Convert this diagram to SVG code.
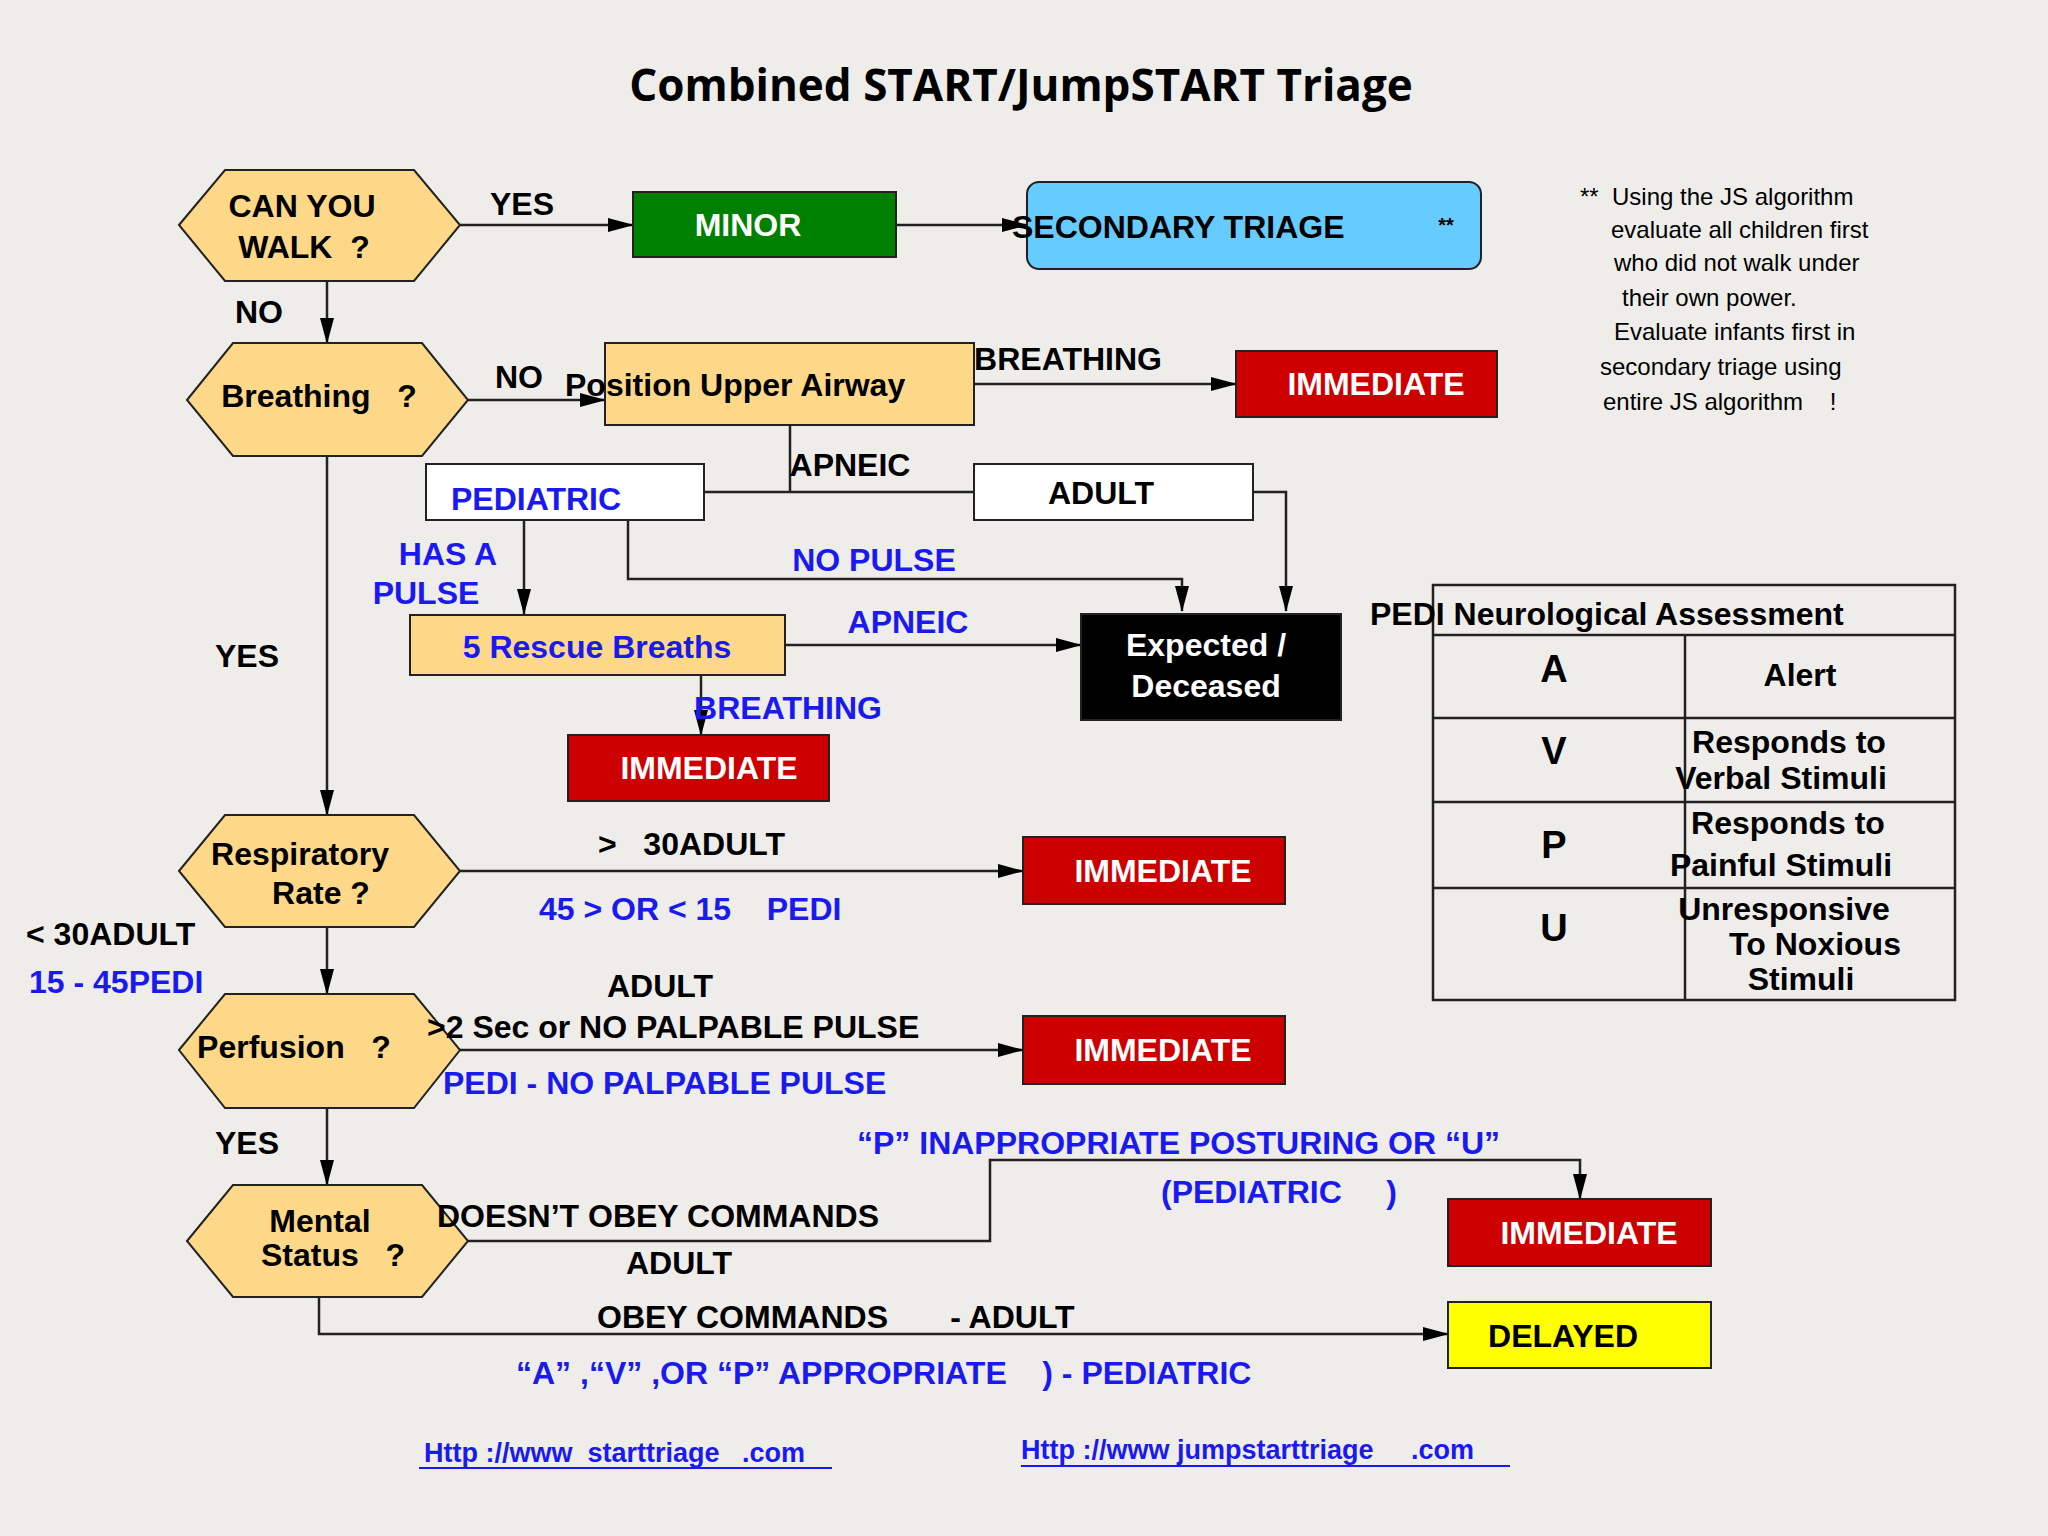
<svg xmlns="http://www.w3.org/2000/svg" width="2048" height="1536" viewBox="0 0 2048 1536" xml:space="preserve">
<defs>
<marker id="ar" markerWidth="26" markerHeight="16" refX="25" refY="8" orient="auto" markerUnits="userSpaceOnUse" viewBox="0 0 26 16"><path d="M0,1 L26,8 L0,15 z" fill="#000"/></marker>
<style>
text{font-family:"Liberation Sans",Arial,sans-serif;font-weight:bold;font-size:32px;fill:#000;white-space:pre}
.c{text-anchor:middle}
.b{fill:#1a1aee}
.w{fill:#fff}
.n{font-weight:normal;font-size:24px}
.hex{fill:#fdd888;stroke:#222;stroke-width:2}
.box{stroke:#222;stroke-width:2}
.ln{fill:none;stroke:#222;stroke-width:2.5}
.arr{fill:none;stroke:#222;stroke-width:2.5;marker-end:url(#ar)}
</style>
</defs>
<rect width="2048" height="1536" fill="#eeede9"/>
<text x="1021" y="101" class="c" style="font-size:44px;font-family:'Open Sans','Liberation Sans',sans-serif">Combined START/JumpSTART Triage</text>

<g id="connectors">
<path class="arr" d="M460,225 H633"/>
<path class="arr" d="M896,225 H1027"/>
<path class="arr" d="M327,281 V343"/>
<path class="arr" d="M468,400 H605"/>
<path class="arr" d="M974,384 H1236"/>
<path class="ln" d="M790,425 V492 M704,492 H974"/>
<path class="arr" d="M1253,492 H1286 V611"/>
<path class="arr" d="M524,520 V614"/>
<path class="arr" d="M628,520 V579 H1182 V611"/>
<path class="arr" d="M785,645 H1081"/>
<path class="arr" d="M701,675 V735"/>
<path class="arr" d="M327,456 V815"/>
<path class="arr" d="M460,871 H1023"/>
<path class="arr" d="M327,927 V994"/>
<path class="arr" d="M460,1050 H1023"/>
<path class="arr" d="M327,1108 V1185"/>
<path class="arr" d="M468,1241 H990 V1160 H1580 V1199"/>
<path class="arr" d="M319,1297 V1334 H1448"/>
</g>

<g id="walk"><polygon class="hex" points="179,225 225,170 414,170 460,225 414,281 225,281"/>
<text x="302" y="217" class="c">CAN YOU</text><text x="304" y="258" class="c">WALK  ?</text></g>
<g id="minor"><rect class="box" x="633" y="192" width="263" height="65" fill="#008000"/><text x="748" y="236" class="c w">MINOR</text></g>
<g id="secondary"><rect class="box" x="1027" y="182" width="454" height="87" rx="12" fill="#66ccff"/><text x="1012" y="238">SECONDARY TRIAGE</text><text x="1446" y="232" class="c" style="font-size:20px">**</text></g>
<g id="note">
<text class="n" x="1580" y="205">**  Using the JS algorithm</text>
<text class="n" x="1611" y="238">evaluate all children first</text>
<text class="n" x="1614" y="271">who did not walk under</text>
<text class="n" x="1622" y="306">their own power.</text>
<text class="n" x="1614" y="340">Evaluate infants first in</text>
<text class="n" x="1600" y="375">secondary triage using</text>
<text class="n" x="1603" y="410">entire JS algorithm    !</text>
</g>
<g id="breathing"><polygon class="hex" points="187,400 233,343 422,343 468,400 422,456 233,456"/><text x="319" y="407" class="c">Breathing   ?</text></g>
<g id="pua"><rect class="box" x="605" y="343" width="369" height="82" fill="#fdd888"/><text x="565" y="396">Position Upper Airway</text></g>
<g id="imm1"><rect class="box" x="1236" y="351" width="261" height="66" fill="#cc0000"/><text x="1376" y="395" class="c w">IMMEDIATE</text></g>
<g id="pedi"><rect class="box" x="426" y="464" width="278" height="56" fill="#fff"/><text x="536" y="510" class="c b">PEDIATRIC</text></g>
<g id="adult"><rect class="box" x="974" y="464" width="279" height="56" fill="#fff"/><text x="1101" y="504" class="c">ADULT</text></g>
<g id="expected"><rect class="box" x="1081" y="614" width="260" height="106" fill="#000"/><text x="1206" y="656" class="c w">Expected /</text><text x="1206" y="697" class="c w">Deceased</text></g>
<g id="rescue"><rect class="box" x="410" y="615" width="375" height="60" fill="#fdd888"/><text x="597" y="658" class="c b">5 Rescue Breaths</text></g>
<g id="imm2"><rect class="box" x="568" y="735" width="261" height="66" fill="#cc0000"/><text x="709" y="779" class="c w">IMMEDIATE</text></g>
<g id="resp"><polygon class="hex" points="179,871 225,815 414,815 460,871 414,927 225,927"/><text x="300" y="865" class="c">Respiratory</text><text x="321" y="904" class="c">Rate ?</text></g>
<g id="imm3"><rect class="box" x="1023" y="837" width="262" height="67" fill="#cc0000"/><text x="1163" y="882" class="c w">IMMEDIATE</text></g>
<g id="perf"><polygon class="hex" points="179,1050 225,994 414,994 460,1050 414,1108 225,1108"/><text x="294" y="1058" class="c">Perfusion   ?</text></g>
<g id="imm4"><rect class="box" x="1023" y="1016" width="262" height="68" fill="#cc0000"/><text x="1163" y="1061" class="c w">IMMEDIATE</text></g>
<g id="mental"><polygon class="hex" points="187,1241 233,1185 422,1185 468,1241 422,1297 233,1297"/><text x="320" y="1232" class="c">Mental</text><text x="333" y="1266" class="c">Status   ?</text></g>
<g id="imm5"><rect class="box" x="1448" y="1199" width="263" height="67" fill="#cc0000"/><text x="1589" y="1244" class="c w">IMMEDIATE</text></g>
<g id="delayed"><rect class="box" x="1448" y="1302" width="263" height="66" fill="#ffff00"/><text x="1563" y="1347" class="c">DELAYED</text></g>

<g id="avpu">
<rect x="1433" y="585" width="522" height="415" fill="none" stroke="#222" stroke-width="2.5"/>
<path class="ln" d="M1433,635 H1955 M1433,718 H1955 M1433,802 H1955 M1433,888 H1955 M1685,635 V1000"/>
<text x="1370" y="625">PEDI Neurological Assessment</text>
<text x="1554" y="682" class="c" style="font-size:38px">A</text><text x="1800" y="686" class="c">Alert</text>
<text x="1554" y="764" class="c" style="font-size:38px">V</text><text x="1789" y="753" class="c">Responds to</text><text x="1781" y="789" class="c">Verbal Stimuli</text>
<text x="1554" y="858" class="c" style="font-size:38px">P</text><text x="1788" y="834" class="c">Responds to</text><text x="1781" y="876" class="c">Painful Stimuli</text>
<text x="1554" y="941" class="c" style="font-size:38px">U</text><text x="1784" y="920" class="c">Unresponsive</text><text x="1815" y="955" class="c">To Noxious</text><text x="1801" y="990" class="c">Stimuli</text>
</g>

<g id="labels">
<text x="522" y="215" class="c">YES</text>
<text x="259" y="323" class="c">NO</text>
<text x="519" y="388" class="c">NO</text>
<text x="1068" y="370" class="c">BREATHING</text>
<text x="850" y="476" class="c">APNEIC</text>
<text x="448" y="565" class="c b">HAS A</text>
<text x="426" y="604" class="c b">PULSE</text>
<text x="874" y="571" class="c b">NO PULSE</text>
<text x="908" y="633" class="c b">APNEIC</text>
<text x="788" y="719" class="c b">BREATHING</text>
<text x="247" y="667" class="c">YES</text>
<text x="598" y="855">&gt;   30ADULT</text>
<text x="539" y="920" class="b">45 &gt; OR &lt; 15    PEDI</text>
<text x="26" y="945">&lt; 30ADULT</text>
<text x="29" y="993" class="b">15 - 45PEDI</text>
<text x="660" y="997" class="c">ADULT</text>
<text x="427" y="1038">&gt;2 Sec or NO PALPABLE PULSE</text>
<text x="443" y="1094" class="b">PEDI - NO PALPABLE PULSE</text>
<text x="247" y="1154" class="c">YES</text>
<text x="857" y="1154" class="b">“P” INAPPROPRIATE POSTURING OR “U”</text>
<text x="1161" y="1203" class="b">(PEDIATRIC     )</text>
<text x="879" y="1227" style="text-anchor:end">DOESN’T OBEY COMMANDS</text>
<text x="679" y="1274" class="c">ADULT</text>
<text x="597" y="1328">OBEY COMMANDS       - ADULT</text>
<text x="516" y="1384" class="b">“A” ,“V” ,OR “P” APPROPRIATE    ) - PEDIATRIC</text>
<text x="424" y="1462" class="b" style="font-size:27px">Http ://www  starttriage   .com</text>
<line x1="419" y1="1468" x2="832" y2="1468" stroke="#1a1aee" stroke-width="2"/>
<text x="1021" y="1459" class="b" style="font-size:27px">Http ://www jumpstarttriage     .com</text>
<line x1="1021" y1="1466" x2="1510" y2="1466" stroke="#1a1aee" stroke-width="2"/>
</g>
</svg>
